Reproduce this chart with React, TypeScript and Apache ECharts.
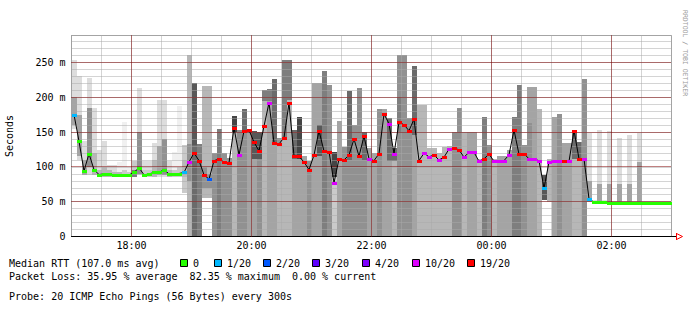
import React, { useEffect, useRef } from "react";
import * as echarts from "echarts";

// ---- data -------------------------------------------------------------
const STEP = 5; // minutes per RRD step (300 s)
const X_MAX = 600; // 17:00 -> 03:00, minutes
const Y_MAX = 288.8; // ms

const xTickValues = [60, 180, 300, 420, 540];
const xTickLabels = ["18:00", "20:00", "22:00", "00:00", "02:00"];
const yTickValues = [0, 50, 100, 150, 200, 250];
const yTickLabels = ["0", "50 m", "100 m", "150 m", "200 m", "250 m"];

const lossSteps = [0, 1, 2, 3, 4, 10, 19];
const lossLabels = ["0", "1/20", "2/20", "3/20", "4/20", "10/20", "19/20"];
const lossColors = ["#26ff00", "#00b8ff", "#0059ff", "#5e00ff", "#7e00ff", "#dd00ff", "#ff0000"];

const n = null;

// median RTT per step (ms)
const median = [
  175, 137, 94, 119, 96, 89, 90, 90, 88.5, 88.5,
  88.5, 88.5, 92, 99, 88.5, 90, 92, 92, 96, 90,
  90, 90.5, 92, 107, 120, 109, 88.6, 82.4, 109, 111,
  107, 106, 156, 117.4, 151.4, 152.8, 135.6, 123, 158.6, 192,
  135, 133, 142, 191.6, 116, 115, 107, 96, 117, 152,
  122.6, 122, 77.1, 111.6, 110, 117, 140, 115.5, 144, 111.6,
  109, 119, 176, 162, 119, 164, 160.5, 152, 168.6, 109,
  119.7, 114.5, 117, 110, 114, 125.5, 127, 124.5, 114, 121,
  121, 108, 111.6, 118.3, 108.3, 109, 109, 117.4, 153, 118,
  119, 111.6, 111, 109, 69.5, 107, 109, 109, 109, 108,
  152.3, 111.6, 111.6, 54, 49.4, 49.4, 49, 48, 48, 48,
  48, 48, 48, 48, 48, 48, 48, 48, 48, 48,
];

// lost pings (of 20) per step
const loss = [
  1, 0, 0, 0, 0, 0, 0, 0, 0, 0,
  0, 0, 0, 0, 0, 0, 0, 0, 0, 0,
  0, 0, 1, 10, 19, 19, 19, 2, 19, 19,
  19, 19, 19, 10, 19, 19, 19, 19, 19, 10,
  19, 19, 19, 19, 19, 19, 19, 19, 19, 19,
  19, 19, 10, 19, 19, 19, 19, 19, 19, 10,
  19, 19, 19, 10, 10, 19, 19, 19, 19, 19,
  10, 10, 19, 10, 19, 10, 19, 19, 10, 10,
  10, 10, 19, 19, 10, 10, 10, 10, 19, 19,
  19, 10, 10, 10, 1, 10, 10, 10, 19, 10,
  19, 19, 10, 1, 0, 0, 0, 0, 0, 0,
  0, 0, 0, 0, 0, 0, 0, 0, 0, 0,
];

// smoke extent per step (ms) and its density (0 light .. 9 dark)
const smokeLo = [
  155, 110, 88, 88, 88, 86, 86, 86, 86, 86,
  86, 86, 86, 88, 86, 86, 86, 86, 86, 86,
  86, 86, 62, 0, 0, 0, 55, 55, 0, 0,
  0, 0, 0, 0, 0, 0, 0, 0, 0, 0,
  0, 0, 0, 0, 0, 0, 0, 0, 0, 0,
  0, 0, 0, 0, 0, 0, 0, 0, 0, 0,
  0, 0, 0, 0, 0, 0, 0, 0, 0, 0,
  0, 0, 0, 0, 0, 0, 0, 0, 0, 0,
  0, 0, 0, 0, 0, 0, 0, 0, 0, 0,
  0, 0, 0, 0, 52, 50, 0, 0, 0, 0,
  0, 0, 0, 50, 47, 47, 47, 47, 47, 47,
  47, 47, 47, 47, 47, 47, 47, 47, 47, 47,
];
const smokeHi = [
  254, 230, 137, 228, 184, 125, 137, 103, 103, 107,
  165, 100, 108, 213, 108, 108, 134, 196, 196, 108,
  122, 188, 132, 261, 220, 133, 216, 216, 120, 155,
  120, 113, 173, 153, 183, 152, 151, 150, 211, 212,
  227, 141, 254, 254, 153, 172, 115, 108, 220, 220,
  238, 217, 122, 166, 129, 209, 160, 214, 150, 127,
  120, 183, 183, 170, 127, 261, 261, 170, 245, 189,
  189, 127, 127, 120, 129, 130, 150, 184, 150, 150,
  150, 112, 172, 132, 112, 116, 116, 125, 172, 217,
  132, 215, 215, 183, 89, 112, 172, 176, 134, 134,
  153, 136, 227, 148, 53, 153, 52, 151, 51, 141,
  51, 146, 51, 148, 51, 51, 51, 51, 51, 51,
];
const smokeDensity = [
  1, 1, 1, 1, 1, 1, 1, 1, 1, 0,
  0, 0, 2, 1, 1, 1, 1, 1, 1, 1,
  0, 0, 2, 3, 7, 6, 3, 3, 5, 6,
  5, 5, 3, 5, 5, 4, 4, 5, 3, 4,
  4, 3, 3, 3, 4, 4, 4, 5, 4, 4,
  6, 5, 2, 4, 5, 5, 5, 5, 5, 4,
  4, 5, 4, 4, 3, 5, 5, 5, 4, 3,
  3, 3, 3, 3, 3, 3, 5, 5, 3, 4,
  4, 3, 6, 5, 3, 4, 4, 4, 6, 6,
  5, 4, 4, 3, 8, 3, 4, 5, 4, 4,
  3, 3, 5, 1, 1, 1, 1, 1, 1, 1,
  1, 1, 1, 1, 1, 1, 1, 1, 1, 1,
];

// dense core of the smoke per step (ms) and its density
const coreLo = [
  160, 115, 88, 100, 88, 86, 86, 86, 86, 86,
  86, 86, 86, 90, 86, 86, 86, 88, 88, 86,
  86, 86, 85, 80, 132, n, 70, 70, n, n,
  n, n, 150, n, 150, n, 112, 112, 195, 195,
  133, 130, 142, 196, 112, 112, n, n, n, 115,
  n, n, 85, n, n, 110, n, n, 110, n,
  n, n, n, 108, 108, 150, n, n, 146, n,
  n, n, n, n, n, n, n, n, n, n,
  n, n, n, n, n, n, n, n, n, n,
  n, 113, n, n, n, n, n, n, n, n,
  112, 108, n, 50, n, 47, n, 47, n, 47,
  n, 47, n, 47, n, n, n, n, n, n,
];
const coreHi = [
  200, 175, 110, 185, 120, 95, 100, 95, 92, 92,
  95, 92, 96, 150, 95, 95, 110, 130, 140, 95,
  95, 100, 110, 133, 220, n, 100, 90, n, n,
  n, n, 173, n, 183, n, 151, 150, 211, 212,
  227, 141, 254, 254, 153, 172, n, n, n, 160,
  n, n, 122, n, n, 209, n, n, 150, n,
  n, n, n, 170, 127, 200, n, n, 245, n,
  n, n, n, n, n, n, n, n, n, n,
  n, n, n, n, n, n, n, n, n, n,
  n, 163, n, n, n, n, n, n, n, n,
  153, 136, n, 80, n, 75, n, 75, n, 75,
  n, 75, n, 107, n, n, n, n, n, n,
];
const coreDensity = [
  4, 4, 4, 5, 3, 3, 3, 3, 3, 3,
  2, 2, 6, 5, 2, 2, 3, 4, 5, 3,
  2, 2, 3, 5, 8, n, 5, 5, n, n,
  n, n, 9, n, 7, n, 8, 8, 6, 6,
  7, 5, 6, 6, 7, 9, n, n, n, 8,
  n, n, 9, n, n, 7, n, n, 7, n,
  n, n, n, 7, 7, 6, n, n, 7, n,
  n, n, n, n, n, n, n, n, n, n,
  n, n, n, n, n, n, n, n, n, n,
  n, 5, n, n, n, n, n, n, n, n,
  7, 7, n, 4, n, 4, n, 4, n, 4,
  n, 4, n, 4, n, n, n, n, n, n,
];

const avgText = "Median RTT (107.0 ms avg)";
const lossText = "Packet Loss: 35.95 % average  82.35 % maximum  0.00 % current";
const probeText = "Probe: 20 ICMP Echo Pings (56 Bytes) every 300s";
const creditText = "RRDTOOL / TOBI OETIKER";

// ---- helpers ----------------------------------------------------------
const FONT = '"DejaVu Sans Mono", "Liberation Mono", monospace';
const grey = (d: number) => {
  const g = Math.round(240 - 19 * d);
  return `rgb(${g},${g},${g})`;
};
const lossColor = (l: number) => {
  let idx = 0;
  lossSteps.forEach((s, i) => {
    if (l >= s) idx = i;
  });
  return lossColors[idx];
};

export default function App() {
  const ref = useRef<HTMLDivElement>(null);

  useEffect(() => {
    if (!ref.current) return;
    const chart = echarts.init(ref.current, undefined, { renderer: "svg" });

    const smokeData = median.map((_, i) => [
      i * STEP,
      smokeLo[i],
      smokeHi[i],
      smokeDensity[i],
      coreLo[i] ?? -1,
      coreHi[i] ?? -1,
      coreDensity[i] ?? -1,
    ]);
    const markData = median.map((m, i) => [i * STEP, m, loss[i]]);
    const lineData = median.map((m, i) => [i * STEP + STEP / 2, m]);
    const majorData = [
      ...xTickValues.map((v) => [v, 0, 0]),
      ...yTickValues.filter((v) => v > 0).map((v) => [0, v, 1]),
    ];

    const legendX = [180, 214, 263, 312, 362, 412, 467];
    const graphics: any[] = [
      { type: "text", x: 9, y: 263.5, style: { text: avgText, font: `10px ${FONT}`, fill: "#000", textVerticalAlign: "middle" } },
      { type: "text", x: 9, y: 276.5, style: { text: lossText, font: `10px ${FONT}`, fill: "#000", textVerticalAlign: "middle" } },
      { type: "text", x: 9, y: 296.5, style: { text: probeText, font: `10px ${FONT}`, fill: "#000", textVerticalAlign: "middle" } },
      {
        type: "text", x: 685, y: 10, rotation: -Math.PI / 2,
        style: { text: creditText, font: `6.5px ${FONT}`, fill: "#999", textAlign: "left", textVerticalAlign: "middle" },
      },
      { type: "line", shape: { x1: 671, y1: 236.5, x2: 676, y2: 236.5 }, style: { stroke: "#000", lineWidth: 1 } },
      { type: "line", shape: { x1: 676.5, y1: 233, x2: 676.5, y2: 240 }, style: { stroke: "#ff0000", lineWidth: 1 } },
      { type: "polygon", shape: { points: [[676.5, 233.5], [682.5, 236.5], [676.5, 239.5]] }, style: { stroke: "#ff0000", fill: "none", lineWidth: 1 } },
    ];
    lossLabels.forEach((lab, i) => {
      graphics.push({
        type: "rect",
        shape: { x: legendX[i] + 0.5, y: 259.5, width: 7, height: 7 },
        style: { fill: lossColors[i], stroke: "#000", lineWidth: 1 },
      });
      graphics.push({
        type: "text", x: legendX[i] + 13, y: 263.5,
        style: { text: lab, font: `10px ${FONT}`, fill: "#000", textVerticalAlign: "middle" },
      });
    });

    chart.setOption({
      animation: false,
      backgroundColor: "#ffffff",
      grid: {
        left: 71.5, top: 35.5, width: 600, height: 201,
        show: true, borderColor: "#a0a0a0", borderWidth: 1,
        containLabel: false, outerBoundsMode: "none",
      },
      xAxis: {
        type: "value",
        min: 0,
        max: X_MAX,
        interval: 30,
        z: 3,
        axisLine: { show: true, lineStyle: { color: "#000", width: 1 } },
        axisTick: { show: false },
        axisLabel: {
          margin: 4,
          color: "#000",
          fontFamily: FONT,
          fontSize: 10,
          formatter: (v: number) => {
            const k = xTickValues.indexOf(v);
            return k >= 0 ? xTickLabels[k] : "";
          },
        },
        splitLine: { show: true, lineStyle: { color: "#a8a8a8", type: [1, 1], width: 1 } },
      },
      yAxis: {
        type: "value",
        min: 0,
        max: Y_MAX,
        interval: 10,
        z: 3,
        name: "Seconds",
        nameLocation: "middle",
        nameRotate: 90,
        nameGap: 57,
        nameTextStyle: { color: "#000", fontFamily: FONT, fontSize: 10 },
        axisLine: { show: true, lineStyle: { color: "#a0a0a0", width: 1 } },
        axisTick: { show: false },
        axisLabel: {
          margin: 6,
          color: "#000",
          fontFamily: FONT,
          fontSize: 10,
          showMaxLabel: false,
          formatter: (v: number) => {
            const k = yTickValues.indexOf(Math.round(v * 1000) / 1000);
            return k >= 0 ? yTickLabels[k] : "";
          },
        },
        splitLine: { show: true, lineStyle: { color: "#a8a8a8", type: [1, 1], width: 1 } },
      },
      series: [
        {
          type: "custom",
          name: "smoke",
          z: 1,
          silent: true,
          encode: { x: 0, y: [1, 2] },
          data: smokeData,
          renderItem: (_p: any, api: any) => {
            const x = api.value(0);
            const a = api.coord([x, api.value(1)]);
            const b = api.coord([x + STEP, api.value(2)]);
            const x0 = Math.round(a[0]);
            const x1 = Math.round(b[0]);
            const y0 = Math.round(a[1]);
            const y1 = Math.round(b[1]);
            const children: any[] = [
              { type: "rect", shape: { x: x0, y: y1, width: x1 - x0, height: y0 - y1 }, style: { fill: grey(api.value(3)) } },
            ];
            const cl = api.value(4);
            const ch = api.value(5);
            if (cl >= 0 && ch >= 0) {
              const c0 = Math.round(api.coord([x, cl])[1]);
              const c1 = Math.round(api.coord([x, ch])[1]);
              children.push({
                type: "rect",
                shape: { x: x0, y: c1, width: x1 - x0, height: c0 - c1 },
                style: { fill: grey(api.value(6)) },
              });
            }
            return { type: "group", children };
          },
        },
        {
          type: "custom",
          name: "major grid",
          z: 4,
          silent: true,
          encode: { x: 0, y: 1 },
          data: majorData,
          renderItem: (params: any, api: any) => {
            const cs = params.coordSys;
            const kind = api.value(2);
            const style = { stroke: "#800000", lineWidth: 1, lineDash: [1, 1] };
            if (kind === 0) {
              const px = Math.floor(api.coord([api.value(0), 0])[0]) + 0.5;
              return { type: "line", shape: { x1: px, y1: cs.y, x2: px, y2: cs.y + cs.height }, style };
            }
            const py = Math.floor(api.coord([0, api.value(1)])[1]) + 0.5;
            return { type: "line", shape: { x1: cs.x, y1: py, x2: cs.x + cs.width, y2: py }, style };
          },
        },
        {
          type: "line",
          name: "median line",
          z: 5,
          silent: true,
          symbol: "none",
          data: lineData,
          lineStyle: { color: "#000", width: 1 },
        },
        {
          type: "custom",
          name: "Median RTT",
          z: 6,
          silent: true,
          encode: { x: 0, y: 1 },
          data: markData,
          renderItem: (_p: any, api: any) => {
            const x = api.value(0);
            const a = api.coord([x, api.value(1)]);
            const b = api.coord([x + STEP, api.value(1)]);
            const x0 = Math.round(a[0]);
            const x1 = Math.round(b[0]);
            const y = Math.round(a[1]) - 1.5;
            return {
              type: "rect",
              shape: { x: x0, y: Math.round(y), width: x1 - x0, height: 3 },
              style: { fill: lossColor(api.value(2)) },
            };
          },
        },
      ],
      graphic: graphics,
    });

    return () => chart.dispose();
  }, []);

  return (
    <div
      ref={ref}
      style={{ position: "fixed", left: 0, top: 0, width: 694, height: 312, background: "#fff" }}
    />
  );
}
